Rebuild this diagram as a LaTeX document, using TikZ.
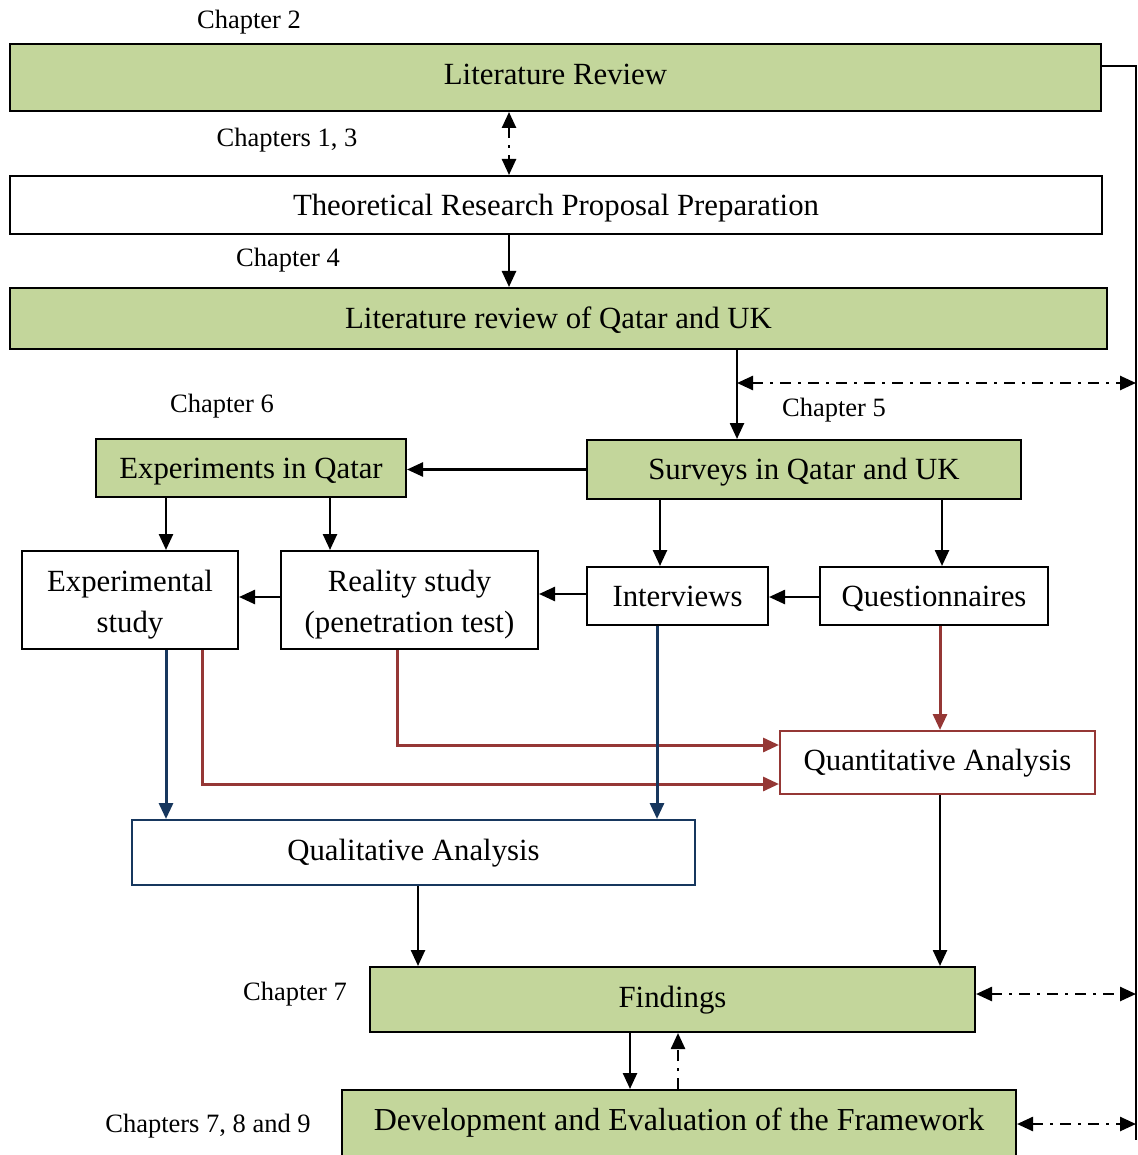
\documentclass[tikz,border=0pt]{standalone}
\usepackage{fontspec}
\setmainfont{Liberation Serif}
\usetikzlibrary{arrows.meta}
\definecolor{boxgreen}{HTML}{C3D69B}
\definecolor{linered}{HTML}{953735}
\definecolor{lineblue}{HTML}{17375E}
\tikzset{
  box/.style={draw=black, line width=2pt, inner sep=0pt,
    font=\fontsize{30.8}{41}\selectfont},
  one/.style={box, text height=21pt, text depth=6pt},
  gbox/.style={one, fill=boxgreen},
  lbl/.style={inner sep=0pt, font=\fontsize{26.5}{30}\selectfont},
  arr/.style={line width=2.5pt, -{Triangle[length=16pt,width=14pt]}},
  redarr/.style={arr, draw=linered, line width=3pt, -{Triangle[length=16pt,width=14pt,fill=linered]}},
  bluearr/.style={arr, draw=lineblue, line width=3pt, -{Triangle[length=16pt,width=14pt,fill=lineblue]}},
  ddash/.style={line width=2.5pt, dash pattern=on 11pt off 7pt on 3pt off 7pt},
  bidd/.style={ddash, {Triangle[length=16pt,width=14pt]}-{Triangle[length=16pt,width=14pt]}},
}
\begin{document}
\begin{tikzpicture}[x=1pt,y=-1pt]
\useasboundingbox (0,0) rectangle (1137,1155);

% boxes
\node[gbox, minimum width=1091pt, minimum height=67pt] (lit) at (555.5,77.5) {Literature Review};
\node[one, minimum width=1092pt, minimum height=58pt] (theo) at (556,205) {\raisebox{-3pt}{Theoretical Research Proposal Preparation}};
\node[gbox, minimum width=1097pt, minimum height=61pt] (litq) at (558.5,318.5) {\raisebox{-2pt}{Literature review of Qatar and UK}};
\node[gbox, minimum width=310pt, minimum height=58pt] (exp) at (251,468) {\raisebox{-3pt}{Experiments in Qatar}};
\node[gbox, minimum width=434pt, minimum height=59pt] (surv) at (804,469.5) {\raisebox{-2.5pt}{Surveys in Qatar and UK}};
\node[box, minimum width=216pt, minimum height=98pt] (expst) at (130,600) {\begin{tabular}{@{}c@{}}\rule{0pt}{36.7pt}Experimental\\study\end{tabular}};
\node[box, minimum width=257pt, minimum height=98pt] (real) at (409.5,600) {\begin{tabular}{@{}c@{}}\rule{0pt}{36.7pt}Reality study\\(penetration test)\end{tabular}};
\node[one, minimum width=181pt, minimum height=58pt] (int) at (677.5,596) {\raisebox{-3pt}{Interviews}};
\node[one, minimum width=228pt, minimum height=58pt] (quest) at (934,596) {\raisebox{-3pt}{Questionnaires}};
\node[one, draw=linered, minimum width=315pt, minimum height=63pt] (quant) at (937.5,762.5) {Quantitative Analysis};
\node[one, draw=lineblue, minimum width=563pt, minimum height=65pt] (qual) at (413.5,852.5) {Qualitative Analysis};
\node[gbox, minimum width=605pt, minimum height=65pt] (find) at (672.5,999.5) {Findings};
\node[gbox, minimum width=674pt, minimum height=74pt, font=\fontsize{32}{41}\selectfont] (dev) at (679,1127) {\raisebox{4.5pt}{Development and Evaluation of the Framework}};

% labels
\node[lbl] (c2) at (249,22) {Chapter 2};
\node[lbl] (c13) at (287,140) {Chapters 1, 3};
\node[lbl] (c4) at (288,260) {Chapter 4};
\node[lbl] (c6) at (222,406) {Chapter 6};
\node[lbl] (c5) at (834,410) {Chapter 5};
\node[lbl] (c7) at (295,994) {Chapter 7};
\node[lbl] (c789) at (208,1126) {Chapters 7, 8 and 9};

% right vertical line
\coordinate (rb) at (1136,1140);
\draw[line width=2pt] ([yshift=11.5pt]lit.east) -| (rb);

% top connectors
\draw[bidd] ([xshift=-46.5pt]lit.south) coordinate (a1) -- (a1 |- theo.north);
\draw[arr] ([xshift=-47pt]theo.south) coordinate (a2) -- (a2 |- litq.north);
\draw[arr] ([xshift=178.5pt]litq.south) coordinate (a3) -- (a3 |- surv.north);
\coordinate (m1) at (737,383);
\draw[bidd] (m1) -- (m1 -| rb);

% surveys / experiments
\draw[arr] (surv.west) -- (surv.west -| exp.east);
\draw[arr] ([xshift=-85pt]exp.south) coordinate (a4) -- (a4 |- expst.north);
\draw[arr] ([xshift=79pt]exp.south) coordinate (a5) -- (a5 |- real.north);
\draw[arr] ([xshift=-144pt]surv.south) coordinate (a6) -- (a6 |- int.north);
\draw[arr] ([xshift=138pt]surv.south) coordinate (a7) -- (a7 |- quest.north);

% horizontal chain
\draw[arr] ([yshift=3pt]real.west) coordinate (h1) -- (h1 -| expst.east);
\draw[arr] ([yshift=2pt]int.west) coordinate (h2) -- (h2 -| real.east);
\draw[arr] ([yshift=-1pt]quest.west) coordinate (h3) -- (h3 -| int.east);

% red connectors
\draw[redarr] ([xshift=6pt]quest.south) coordinate (r1) -- (r1 |- quant.north);
\draw[redarr] ([xshift=-12.5pt]real.south) |- ([yshift=17.5pt]quant.west);
\draw[redarr] ([xshift=72pt]expst.south) |- ([yshift=-21.5pt]quant.west);

% blue connectors
\draw[bluearr] ([xshift=36pt]expst.south) coordinate (b1) -- (b1 |- qual.north);
\draw[bluearr] ([xshift=-20.5pt]int.south) coordinate (b2) -- (b2 |- qual.north);

% to findings
\draw[arr] ([xshift=4.5pt]qual.south) coordinate (f1) -- (f1 |- find.north);
\draw[arr] ([xshift=2.5pt]quant.south) coordinate (f2) -- (f2 |- find.north);
\draw[bidd] ([yshift=5.5pt]find.east) coordinate (f3) -- (f3 -| rb);

% findings / development
\draw[arr] ([xshift=-42.5pt]find.south) coordinate (d1) -- (d1 |- dev.north);
\draw[ddash, -{Triangle[length=16pt,width=14pt]}] ([xshift=-1pt]dev.north) coordinate (d2) -- (d2 |- find.south);
\draw[bidd] (dev.east |- 0,1124) coordinate (d3) -- (d3 -| rb);
\end{tikzpicture}
\end{document}
